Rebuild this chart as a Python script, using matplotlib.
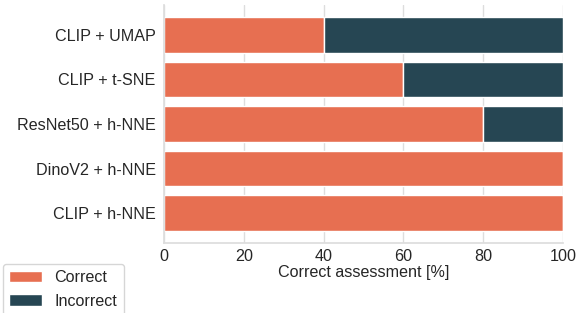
import matplotlib
matplotlib.use("Agg")
import matplotlib.pyplot as plt
import seaborn as sns

methods = ["CLIP + UMAP", "CLIP + t-SNE", "ResNet50 + h-NNE", "DinoV2 + h-NNE", "CLIP + h-NNE"]
correct = [40, 60, 80, 100, 100]
incorrect = [60, 40, 20, 0, 0]
xticks = [0, 20, 40, 60, 80, 100]

sns.set_theme(style="whitegrid")
plt.rcParams['font.family'] = ['Liberation Sans', 'DejaVu Sans']

fs = 11.6
fig = plt.figure(figsize=(5.77, 3.13), dpi=100)
ax = fig.add_axes([164/577, 1-243/313, (563-164)/577, (243-5)/313])

y = list(range(len(methods)))
c1 = "#E76F51"
c2 = "#264653"
ax.barh(y, correct, height=0.8, color=c1, edgecolor="white", linewidth=1, label="Correct")
ax.barh(y, incorrect, left=correct, height=0.8, color=c2, edgecolor="white", linewidth=1, label="Incorrect")
ax.set_yticks(y)
ax.set_yticklabels(methods, fontsize=fs)
ax.set_ylim(len(methods) - 1 + 0.67, -0.67)
ax.set_xlim(0, 100)
ax.set_xticks(xticks)
ax.set_xticklabels([str(t) for t in xticks], fontsize=fs)
ax.set_xlabel("Correct assessment [%]", fontsize=fs, labelpad=1)
ax.grid(axis="y", visible=False)
ax.grid(axis="x", color="#dddddd", linewidth=1)
for s in ["top", "right"]:
    ax.spines[s].set_visible(False)
for s in ["left", "bottom"]:
    ax.spines[s].set_color("#dddddd")
ax.tick_params(axis="y", length=0, pad=6)
ax.tick_params(axis="x", length=0, pad=4)

fig.legend(loc="upper left", bbox_to_anchor=(3/577, 1-264/313), fontsize=fs, frameon=True,
           handlelength=2.0, borderaxespad=0)
fig.savefig("out.png", dpi=100)
